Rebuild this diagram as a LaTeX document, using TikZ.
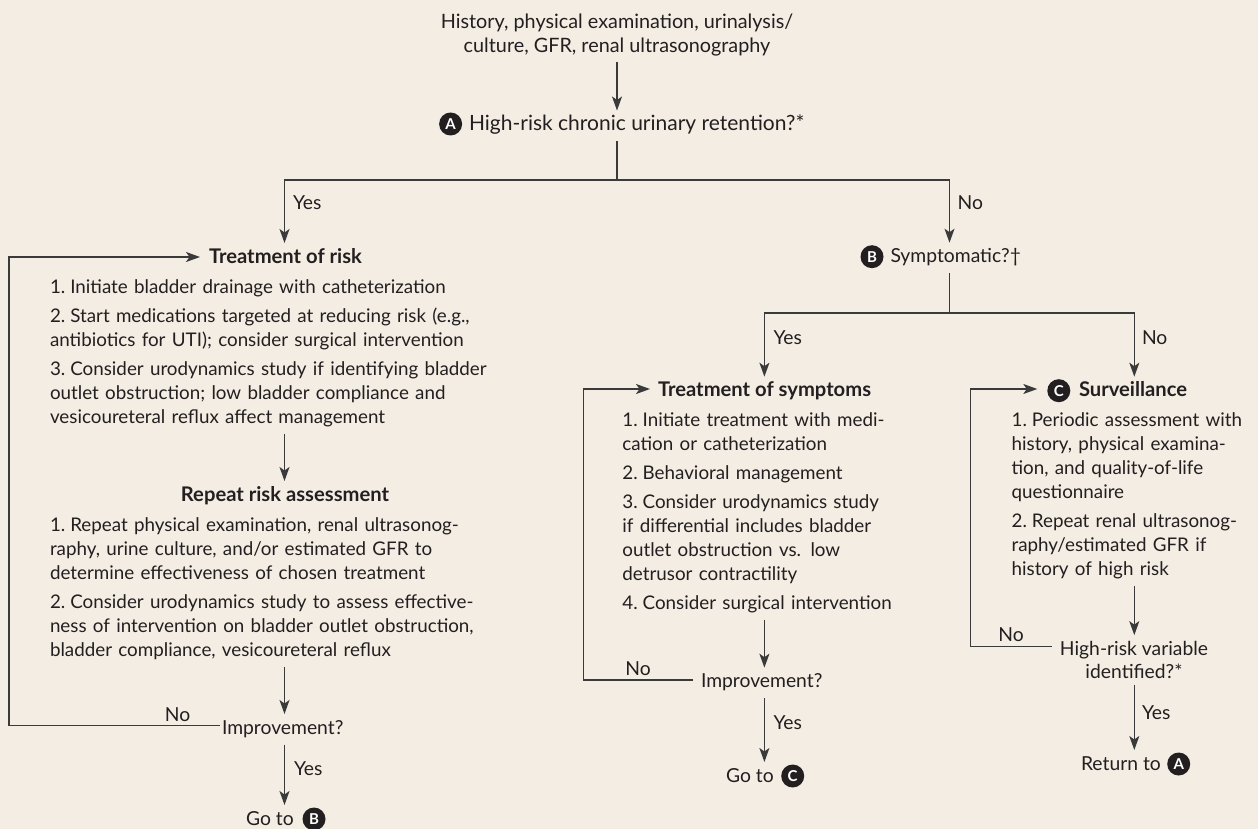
\documentclass[tikz,border=0pt]{standalone}
\usepackage{fontspec}
\setmainfont{Lato}
\usetikzlibrary{arrows.meta,calc}
\definecolor{bg}{HTML}{F3EDE3}
\definecolor{ink}{HTML}{231F20}
\definecolor{linec}{HTML}{3A3A3A}
\newcommand\fsL{\fontsize{18.8}{24}\selectfont}
\newcommand\fsQ{\fontsize{19.3}{23.4}\selectfont}
\newcommand\fsT{\fontsize{19.8}{23.4}\selectfont}
\newcommand\fsA{\fontsize{21}{24}\selectfont}
\newcommand\fsH{\fontsize{20.2}{24}\selectfont\bfseries}
\newcommand\mystrut{\rule[-4.5pt]{0pt}{18pt}}
\newlength\liind
\setlength\liind{20.3pt}
\newcommand\li[2]{\noindent\hangindent=\liind\hangafter=1\makebox[\liind][l]{#1}#2\mystrut\par\setlength\parskip{5pt}}
\tikzset{
 stext/.style={inner sep=0pt, outer xsep=0pt, outer ysep=6pt, text=ink, font=\fsQ, text height=14pt, text depth=4.5pt},
 lbl/.style={stext},
 head/.style={stext, font=\fsH},
 ctext/.style={inner sep=0pt, outer xsep=0pt, outer ysep=6pt, text=ink, font=\fsQ, align=center},
 listbox/.style={inner sep=0pt, outer xsep=0pt, outer ysep=6pt, text=ink, font=\fsL, text width=#1, align=left},
 badge/.style={circle, fill=ink, text=white, inner sep=0pt, outer sep=0pt, minimum size=23pt, font=\bfseries\fontsize{15}{15}\selectfont},
 ln/.style={draw=linec, line width=1.4pt},
 arr/.style={ln, -{Stealth[length=14pt,width=10pt,inset=3.5pt]}},
}
\begin{document}
\begin{tikzpicture}[x=1pt,y=-1pt]
\fill[bg] (0,0) rectangle (1258,829);
\useasboundingbox (0,0) rectangle (1258,829);
% coordinates
\coordinate (split1) at (617,180);
\coordinate (jL) at (284.5,180);
\coordinate (jR) at (949.5,180);
\coordinate (split2) at (949.5,313);
\coordinate (jS) at (764.4,313);
\coordinate (jV) at (1134.3,313);
\coordinate (loopLb) at (9,725.7);
\coordinate (loopLt) at (9,257);
\coordinate (loopSb) at (583.5,680);
\coordinate (loopSt) at (583.5,389);
\coordinate (loopVb) at (970.4,646.7);
\coordinate (loopVt) at (970.4,389);
% nodes
\node[ctext, font=\fsT] (top) at (617,35) {History, physical examination, urinalysis/\\culture, GFR, renal ultrasonography};
\node[badge] (circA) at (450.6,124) {A};
\node[stext, font=\fsA, anchor=base west] (Aq) at (469,130.5) {High-risk chronic urinary retention?*};
\node[lbl, anchor=base west] (yes1) at (293,210) {Yes};
\node[lbl, anchor=base west] (no1) at (957.7,210) {No};
\node[head, anchor=base west] (trisk) at (209,263) {Treatment of risk};
\node[listbox=460pt, anchor=base west] (trlist) at (50,293) {\li{1.}{Initiate bladder drainage with catheterization}\li{2.}{Start medications targeted at reducing risk (e.g.,\\antibiotics for UTI); consider surgical intervention}\li{3.}{Consider urodynamics study if identifying bladder\\outlet obstruction; low bladder compliance and\\vesicoureteral reflux affect management}};
\node[head, anchor=base] (rep) at (285,501) {Repeat risk assessment};
\node[listbox=460pt, anchor=base west] (replist) at (50,531) {\li{1.}{Repeat physical examination, renal ultrasonog-\\raphy, urine culture, and/or estimated GFR to\\determine effectiveness of chosen treatment}\li{2.}{Consider urodynamics study to assess effective-\\ness of intervention on bladder outlet obstruction,\\bladder compliance, vesicoureteral reflux}};
\node[stext, anchor=base west] (imp1) at (222,734) {Improvement?};
\node[lbl, anchor=base] (no2) at (177.5,721) {No};
\node[lbl, anchor=base west] (yes2) at (294,775) {Yes};
\node[stext, anchor=base west] (gotoB) at (246,825) {Go to};
\node[badge] (circB2) at (314,819) {B};
\node[badge] (circB) at (872,256.7) {B};
\node[stext, anchor=base west] (symB) at (890.5,262.7) {Symptomatic?†};
\node[lbl, anchor=base west] (yes3) at (773.5,344) {Yes};
\node[lbl, anchor=base west] (no3) at (1142,344) {No};
\node[head, anchor=base west] (tsymp) at (658,396.7) {Treatment of symptoms};
\node[badge] (circC) at (1058.8,390.7) {C};
\node[head, anchor=base west] (surv) at (1079,396.7) {Surveillance};
\node[listbox=300pt, anchor=base west] (slist) at (622.4,426) {\li{1.}{Initiate treatment with medi-\\cation or catheterization}\li{2.}{Behavioral management}\li{3.}{Consider urodynamics study\\if differential includes bladder\\outlet obstruction vs. low\\detrusor contractility}\li{4.}{Consider surgical intervention}};
\node[listbox=260pt, anchor=base west] (vlist) at (1011.6,426) {\li{1.}{Periodic assessment with\\history, physical examina-\\tion, and quality-of-life\\questionnaire}\li{2.}{Repeat renal ultrasonog-\\raphy/estimated GFR if\\history of high risk}};
\node[stext, anchor=base west] (imp2) at (701,687.7) {Improvement?};
\node[lbl, anchor=base] (no4) at (638,675) {No};
\node[lbl, anchor=base west] (yes4) at (773.5,729) {Yes};
\node[stext, anchor=base west] (gotoC) at (726,782) {Go to};
\node[badge] (circC2) at (792.7,776) {C};
\node[ctext] (hrv) at (1134,660) {High-risk variable\\identified?*};
\node[lbl, anchor=base] (no5) at (1011,641) {No};
\node[lbl, anchor=base west] (yes5) at (1142,719) {Yes};
\node[stext, anchor=base west] (ret) at (1081,770) {Return to};
\node[badge] (circA2) at (1178.7,764) {A};
% connectors
\draw[arr] (top.south) -- (top.south |- Aq.north);
\draw[ln] (top.south |- Aq.south) -- (split1);
\draw[arr] (split1) -| (jL |- trisk.north);
\draw[arr] (split1) -| (jR |- symB.north);
\draw[arr] (trlist.south -| jL) -- (jL |- rep.north);
\draw[arr] (replist.south -| jL) -- (jL |- imp1.north);
\draw[arr] (jL |- imp1.south) -- (jL |- gotoB.north);
\draw[arr, shorten <=2pt, shorten >=9pt] (imp1.west |- loopLb) -- (loopLb) -- (loopLt) -- (trisk.west |- loopLt);
\draw[ln] (split2 |- symB.south) -- (split2);
\draw[arr] (split2) -| (jS |- tsymp.north);
\draw[arr] (split2) -| (jV |- surv.north);
\draw[arr] (slist.south -| jS) -- (jS |- imp2.north);
\draw[arr] (jS |- imp2.south) -- (jS |- gotoC.north);
\draw[arr, shorten <=7.6pt, shorten >=8pt] (imp2.west |- loopSb) -- (loopSb) -- (loopSt) -- (tsymp.west |- loopSt);
\draw[arr] (vlist.south -| jV) -- (jV |- hrv.north);
\draw[arr] (jV |- hrv.south) -- (jV |- ret.north);
\draw[arr, shorten <=8pt, shorten >=10pt] (hrv.west |- loopVb) -- (loopVb) -- (loopVt) -- (circC.west |- loopVt);
\end{tikzpicture}
\end{document}
